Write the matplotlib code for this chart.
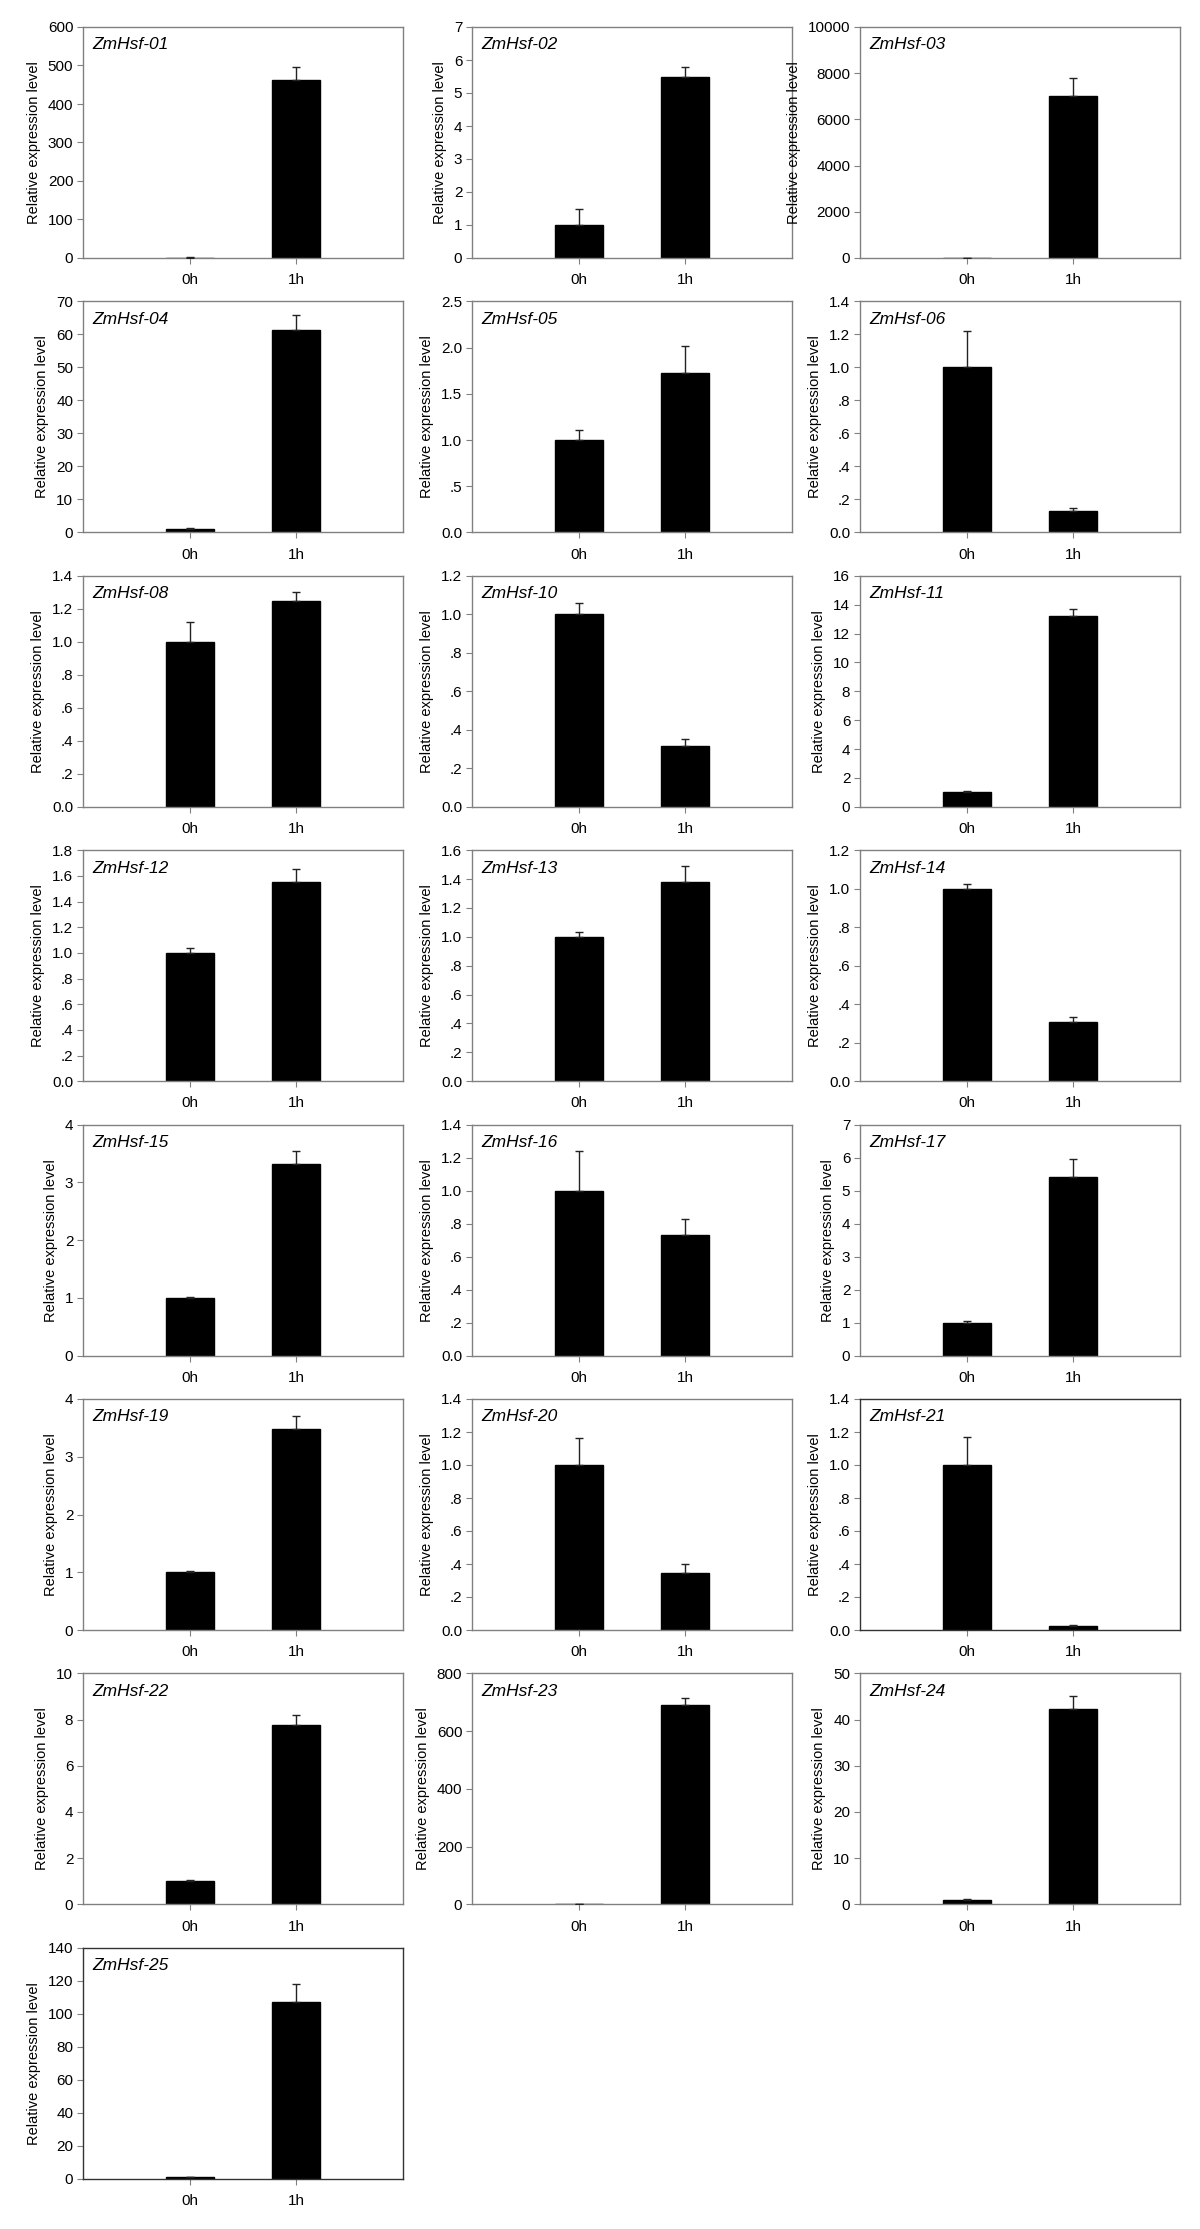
import matplotlib
matplotlib.use("Agg")
import matplotlib.pyplot as plt
from matplotlib.ticker import MultipleLocator, FuncFormatter

plt.rcParams['font.family'] = ['Liberation Sans', 'DejaVu Sans']

# gene names, one panel each
genes = ['ZmHsf-01', 'ZmHsf-02', 'ZmHsf-03', 'ZmHsf-04', 'ZmHsf-05', 'ZmHsf-06',
         'ZmHsf-08', 'ZmHsf-10', 'ZmHsf-11', 'ZmHsf-12', 'ZmHsf-13', 'ZmHsf-14',
         'ZmHsf-15', 'ZmHsf-16', 'ZmHsf-17', 'ZmHsf-19', 'ZmHsf-20', 'ZmHsf-21',
         'ZmHsf-22', 'ZmHsf-23', 'ZmHsf-24', 'ZmHsf-25']
timepoints = ['0h', '1h']

# mean expression at 0h and 1h
expr_0h = [1.0, 1.0, 1.0, 1.0, 1.0, 1.0,
           1.0, 1.0, 1.0, 1.0, 1.0, 1.0,
           1.0, 1.0, 1.0, 1.0, 1.0, 1.0,
           1.0, 1.0, 1.0, 1.0]
expr_1h = [463, 5.48, 7030, 61.3, 1.73, 0.13,
           1.25, 0.315, 13.2, 1.55, 1.38, 0.31,
           3.31, 0.73, 5.40, 3.48, 0.344, 0.022,
           7.75, 691, 42.3, 107]
# upper error bars
err_0h = [0.3, 0.47, 5, 0.25, 0.11, 0.22,
          0.12, 0.06, 0.11, 0.04, 0.03, 0.025,
          0.015, 0.24, 0.05, 0.02, 0.165, 0.17,
          0.07, 1, 0.2, 0.3]
err_1h = [32, 0.32, 770, 4.7, 0.29, 0.015,
          0.05, 0.037, 0.47, 0.10, 0.11, 0.024,
          0.23, 0.10, 0.57, 0.22, 0.057, 0.006,
          0.44, 23, 2.9, 10.8]
# y axis max and tick step
y_max = [600, 7, 10000, 70, 2.5, 1.4,
         1.4, 1.2, 16, 1.8, 1.6, 1.2,
         4, 1.4, 7, 4, 1.4, 1.4,
         10, 800, 50, 140]
y_step = [100, 1, 2000, 10, 0.5, 0.2,
          0.2, 0.2, 2, 0.2, 0.2, 0.2,
          1, 0.2, 1, 1, 0.2, 0.2,
          2, 200, 10, 20]

W, H = 1200, 2229
fig = plt.figure(figsize=(W / 100, H / 100), dpi=100)

col_left = [83, 472, 860]
ax_w, ax_h = 320, 231
row_top0, row_gap = 27, 274.4
frame_gray = '#808080'


def make_fmt(decimal):
    def f(v, pos):
        if not decimal:
            return f"{v:.0f}"
        if abs(v) < 1e-9:
            return "0.0"
        s = f"{v:.1f}"
        if s.startswith("0."):
            s = s[1:]
        return s
    return f


for i, g in enumerate(genes):
    r, c = divmod(i, 3)
    left = col_left[c]
    top = row_top0 + r * row_gap
    ax = fig.add_axes([left / W, 1 - (top + ax_h) / H, ax_w / W, ax_h / H])

    vals = [expr_0h[i], expr_1h[i]]
    errs = [[0, 0], [err_0h[i], err_1h[i]]]
    ax.bar([0, 1], vals, width=0.45, color='black', edgecolor='black', zorder=2)
    ax.errorbar([0, 1], vals, yerr=errs, fmt='none', ecolor='#222222',
                elinewidth=1.0, capsize=3, capthick=1.0, zorder=3)

    ax.set_xlim(-1, 2)
    ax.set_ylim(0, y_max[i])
    ax.set_xticks([0, 1])
    ax.set_xticklabels(timepoints)
    ax.yaxis.set_major_locator(MultipleLocator(y_step[i]))
    ax.yaxis.set_major_formatter(FuncFormatter(make_fmt(y_step[i] < 1)))

    dark = g in ('ZmHsf-21', 'ZmHsf-25')
    for sp in ax.spines.values():
        sp.set_color('#333333' if dark else frame_gray)
        sp.set_linewidth(1.0)
    ax.tick_params(axis='both', direction='out', length=4, width=0.8,
                   color=frame_gray, labelsize=11, pad=3)
    ax.tick_params(axis='x', pad=7)
    ax.set_ylabel('Relative expression level', fontsize=10.5, labelpad=5)
    ax.text(0.03, 0.955, g, transform=ax.transAxes, ha='left', va='top',
            fontsize=12.5, style='italic')

fig.savefig('out.png', dpi=100, facecolor='white')
